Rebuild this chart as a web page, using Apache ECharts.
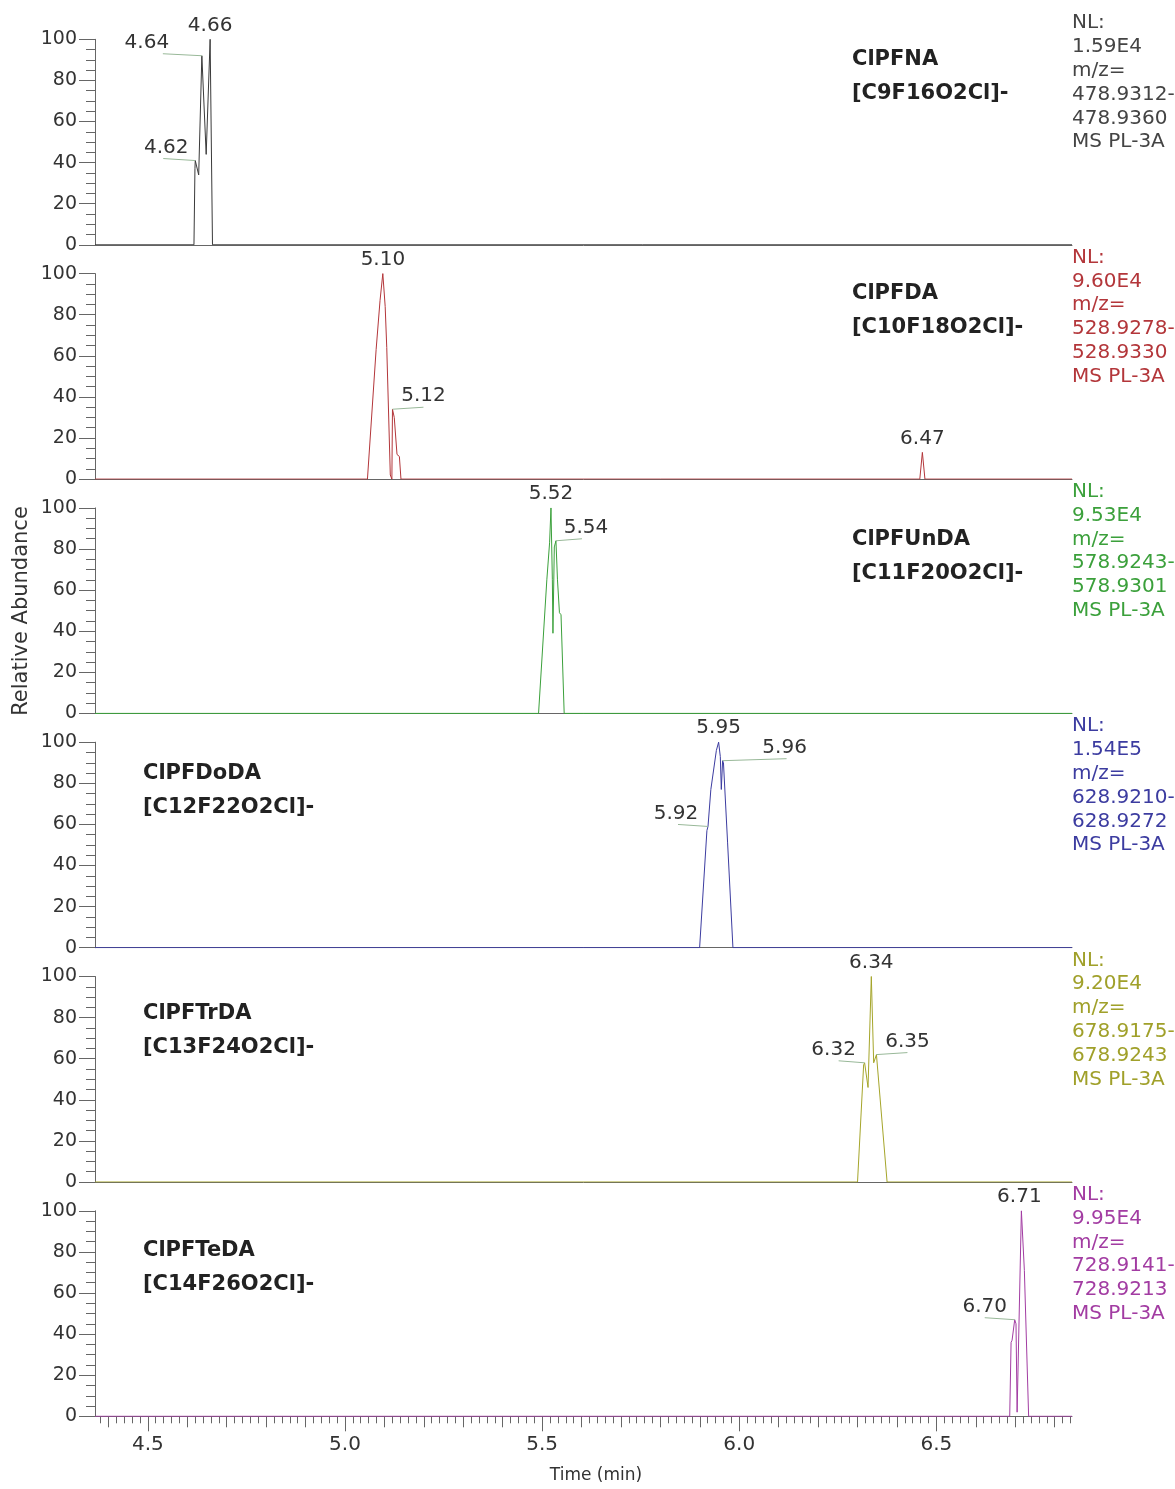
<!DOCTYPE html>
<html>
<head>
<meta charset="utf-8">
<script src="https://cdn.jsdelivr.net/npm/echarts@6/dist/echarts.min.js"></script>
<style>
html, body { margin: 0; padding: 0; background: #fff; }
#chart { width: 1175px; height: 1489px; }
</style>
</head>
<body>
<div id="chart"></div>
<script>
// time range of the chromatograms (min)
var timeMin = 4.366, timeMax = 6.844;
var xTickLabels = [4.5, 5.0, 5.5, 6.0, 6.5];

// traces, one pair of arrays per panel (time in min, relative abundance %)
var time1  = [4.366, 4.617, 4.6195, 4.6203, 4.629, 4.637, 4.648, 4.658, 4.664, 6.844];
var abund1 = [0,     0,     37,     41,     34,    92,    44,    100,   0,     0];

var time2  = [4.366, 5.057, 5.079, 5.089, 5.096, 5.102, 5.106, 5.115, 5.119, 5.1205, 5.125, 5.132, 5.138, 5.142, 6.458, 6.4645, 6.471, 6.844];
var abund2 = [0,     0,     63,    87,    100,   84,    64,    2,     0,     34,     30,    12,    11,    0,     0,     13,     0,     0];

var time3  = [4.366, 5.491, 5.512, 5.519, 5.5225, 5.526, 5.5275, 5.531, 5.5351, 5.539, 5.544, 5.548, 5.556, 6.844];
var abund3 = [0,     0,     65,    83,    100,    65,    39,     81,    84,     65,    49,    48,    0,     0];

var time4  = [4.366, 5.8995, 5.918, 5.9208, 5.928, 5.942, 5.9477, 5.952, 5.9545, 5.9578, 5.960, 5.9705, 5.984, 6.844];
var abund4 = [0,     0,      57,    59,     77,    96,    100,    93,    77,     91,     90,    51,     0,     0];

var time5  = [4.366, 6.300, 6.3155, 6.318, 6.3267, 6.335, 6.341, 6.348, 6.375, 6.844];
var abund5 = [0,     0,     57,     58,    46,     100,   58,    62,    0,     0];

var time6  = [4.366, 6.686, 6.6895, 6.692, 6.6987, 6.702, 6.7048, 6.7156, 6.7232, 6.734, 6.844];
var abund6 = [0,     0,     36,     37,    47,     45,    2,      100,    71,     0,     0];

// labelled peaks
var peakTime1 = [4.6203, 4.637, 4.658], peakAbund1 = [41, 92, 100], peakText1 = ['4.62', '4.64', '4.66'];
var peakTime2 = [5.0962, 5.1205, 6.4645], peakAbund2 = [100, 34, 13], peakText2 = ['5.10', '5.12', '6.47'];
var peakTime3 = [5.5225, 5.5351], peakAbund3 = [100, 84], peakText3 = ['5.52', '5.54'];
var peakTime4 = [5.9208, 5.9477, 5.9578], peakAbund4 = [59, 100, 91], peakText4 = ['5.92', '5.95', '5.96'];
var peakTime5 = [6.318, 6.335, 6.348], peakAbund5 = [58, 100, 62], peakText5 = ['6.32', '6.34', '6.35'];
var peakTime6 = [6.6987, 6.7156], peakAbund6 = [47, 100], peakText6 = ['6.70', '6.71'];

var compounds = ['ClPFNA', 'ClPFDA', 'ClPFUnDA', 'ClPFDoDA', 'ClPFTrDA', 'ClPFTeDA'];
var formulas = ['[C9F16O2Cl]-', '[C10F18O2Cl]-', '[C11F20O2Cl]-', '[C12F22O2Cl]-', '[C13F24O2Cl]-', '[C14F26O2Cl]-'];
var nlValues = ['1.59E4', '9.60E4', '9.53E4', '1.54E5', '9.20E4', '9.95E4'];
var mzLow = ['478.9312', '528.9278', '578.9243', '628.9210', '678.9175', '728.9141'];
var mzHigh = ['478.9360', '528.9330', '578.9301', '628.9272', '678.9243', '728.9213'];

// layout / style
var colors = ['#3a3a3a', '#b3363a', '#3ba03b', '#3c3ca0', '#a5a52a', '#a23ca2'];
var textColors = ['#444444', '#b3363a', '#3ba03b', '#3c3ca0', '#a0a02a', '#a23ca2'];
var labelDx = [[-29, -55, 0], [0, 31, 0], [0, 30], [-32, 0, 62], [-31, 0, 31], [-30, -2]];
var lineDx = [[-3, 16, 0], [0, 0, 0], [0, -4], [2, 0, 2], [5, 0, 0], [0, 0]];
var nameX = [852, 852, 852, 143, 143, 143];
var nameDy = [20, 20, 32, 31, 37, 40];
var gridTop0 = 39.3, gridStep = 234.3, gridH = 205.5;
var FONT = '"DejaVu Sans", sans-serif';

var timeSets = [time1, time2, time3, time4, time5, time6];
var abundSets = [abund1, abund2, abund3, abund4, abund5, abund6];
var peakTimes = [peakTime1, peakTime2, peakTime3, peakTime4, peakTime5, peakTime6];
var peakAbunds = [peakAbund1, peakAbund2, peakAbund3, peakAbund4, peakAbund5, peakAbund6];
var peakTexts = [peakText1, peakText2, peakText3, peakText4, peakText5, peakText6];

var mediumTicks = [], minorTicks = [];
for (var v = 438; v <= 684; v += 2) {
    minorTicks.push(v / 100);
    if (v % 10 === 0) mediumTicks.push(v / 100);
}

var grids = [], xAxes = [], yAxes = [], seriesList = [], graphics = [];

function addPanel(k) {
    var panelTop = gridTop0 + gridStep * k;
    var isLast = k === 5;
    grids.push({ left: 95, right: 103, top: panelTop, height: gridH });
    xAxes.push({
        type: 'value', gridIndex: k, min: timeMin, max: timeMax, position: 'bottom',
        axisLine: { show: true, onZero: false, lineStyle: { color: '#666', width: 1 } },
        axisTick: { show: isLast, length: 15, customValues: xTickLabels, lineStyle: { color: '#666' } },
        axisLabel: {
            show: isLast, customValues: xTickLabels, margin: 18,
            fontSize: 20, fontFamily: FONT, color: '#333',
            formatter: function (val) { return Number(val).toFixed(1); }
        },
        splitLine: { show: false }
    });
    yAxes.push({
        type: 'value', gridIndex: k, min: 0, max: 100, interval: 20,
        axisLine: { show: true, lineStyle: { color: '#666', width: 1 } },
        axisTick: { show: true, length: 16, lineStyle: { color: '#666' } },
        minorTick: { show: true, splitNumber: 4, length: 9, lineStyle: { color: '#666' } },
        axisLabel: { margin: 18, fontSize: 19, fontFamily: FONT, color: '#333' },
        splitLine: { show: false }
    });

    var pts = timeSets[k].map(function (tt, i) { return [tt, abundSets[k][i]]; });
    seriesList.push({
        type: 'line', xAxisIndex: k, yAxisIndex: k, data: pts,
        symbol: 'none', animation: false, z: 3,
        lineStyle: { color: colors[k], width: 1 }
    });

    seriesList.push({
        type: 'custom', xAxisIndex: k, yAxisIndex: k, z: 5, animation: false,
        data: peakTimes[k].map(function (tt, i) { return [tt, peakAbunds[k][i], i]; }),
        renderItem: function (params, api) {
            var p = api.coord([api.value(0), api.value(1)]);
            var i = api.value(2);
            var dx = labelDx[k][i];
            var children = [];
            var ty = p[1] - 14;
            if (Math.abs(dx) > 5) {
                ty = p[1] - 13;
                children.push({
                    type: 'polyline',
                    shape: { points: [[p[0], p[1]], [p[0] + dx + lineDx[k][i], p[1] - 2]] },
                    style: { stroke: '#98b898', lineWidth: 1, fill: null }
                });
            }
            children.push({
                type: 'text',
                style: {
                    text: peakTexts[k][i], x: p[0] + dx, y: ty,
                    align: 'center', verticalAlign: 'middle',
                    fontSize: 20, fontFamily: FONT, fill: '#333'
                }
            });
            return { type: 'group', children: children };
        }
    });

    graphics.push({
        type: 'text', x: 1072, y: panelTop - 28,
        style: {
            text: 'NL:\n' + nlValues[k] + '\nm/z=\n' + mzLow[k] + '-\n' + mzHigh[k] + '\nMS PL-3A',
            fontSize: 20, fontFamily: FONT, lineHeight: 23.8, fill: textColors[k]
        }
    });
    graphics.push({
        type: 'text', x: nameX[k], y: panelTop + nameDy[k] - 17,
        style: {
            text: compounds[k] + '\n' + formulas[k],
            fontSize: 21, fontWeight: 'bold', fontFamily: FONT, lineHeight: 34, fill: '#222'
        }
    });
}

for (var k = 0; k < 6; k++) addPanel(k);

// extra tick rows for the bottom time axis
xAxes.push({
    type: 'value', gridIndex: 5, min: timeMin, max: timeMax, position: 'bottom',
    axisLine: { show: false, onZero: false }, axisLabel: { show: false }, splitLine: { show: false },
    axisTick: { show: true, length: 11, customValues: mediumTicks, lineStyle: { color: '#666' } }
});
xAxes.push({
    type: 'value', gridIndex: 5, min: timeMin, max: timeMax, position: 'bottom',
    axisLine: { show: false, onZero: false }, axisLabel: { show: false }, splitLine: { show: false },
    axisTick: { show: true, length: 7, customValues: minorTicks, lineStyle: { color: '#666' } }
});

graphics.push({
    type: 'text', x: 22, y: 611, rotation: Math.PI / 2,
    style: { text: 'Relative Abundance', fontSize: 21, fontFamily: FONT, fill: '#333', align: 'center', verticalAlign: 'middle' }
});
graphics.push({
    type: 'text', x: 596, y: 1476,
    style: { text: 'Time (min)', fontSize: 17, fontFamily: FONT, fill: '#333', align: 'center', verticalAlign: 'middle' }
});

var chart = echarts.init(document.getElementById('chart'));
chart.setOption({
    animation: false,
    grid: grids,
    xAxis: xAxes,
    yAxis: yAxes,
    series: seriesList,
    graphic: graphics
});
</script>
</body>
</html>
